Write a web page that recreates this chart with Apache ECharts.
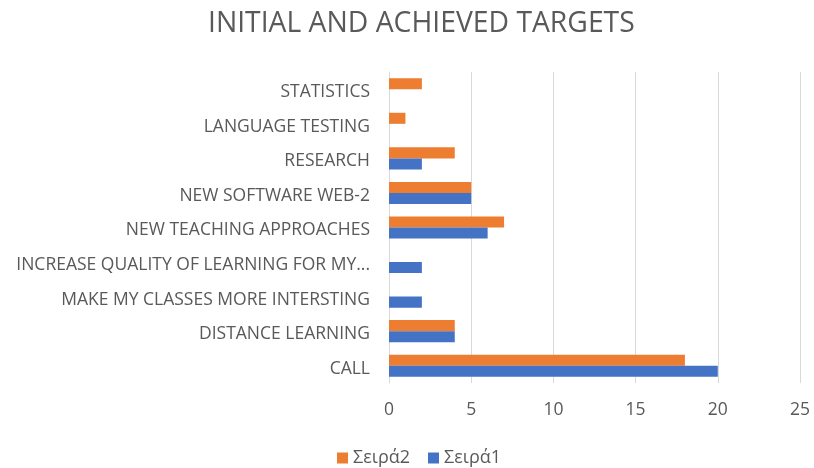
<!DOCTYPE html>
<html><head><meta charset="utf-8">
<script src="https://cdn.jsdelivr.net/npm/echarts@6/dist/echarts.min.js"></script>
<style>html,body{margin:0;padding:0;background:#fff}#c{width:814px;height:468px}</style>
</head><body><div id="c"></div>
<script>
const categories = ['CALL','DISTANCE LEARNING','MAKE MY CLASSES MORE INTERSTING','INCREASE QUALITY OF LEARNING FOR MY...','NEW TEACHING APPROACHES','NEW SOFTWARE WEB-2','RESEARCH','LANGUAGE TESTING','STATISTICS'];
const seira1 = [20,4,2,2,6,5,2,0,0];
const seira2 = [18,4,0,0,7,5,4,1,2];
const xTicks = [0,5,10,15,20,25];
const FONT = 'Open Sans';
const chart = echarts.init(document.getElementById('c'));
chart.setOption({
  animation:false,
  textStyle:{fontFamily:FONT},
  title:{text:'INITIAL AND ACHIEVED TARGETS',left:203,top:5,textStyle:{fontFamily:FONT,fontSize:28.3,fontWeight:'normal',color:'#595959'}},
  legend:{top:444,left:332,itemWidth:11,itemHeight:11,itemGap:18,icon:'rect',textStyle:{fontFamily:FONT,fontSize:18,color:'#595959'},data:['Σειρά2','Σειρά1']},
  grid:{left:389,right:14,top:72,bottom:85,containLabel:false},
  xAxis:{type:'value',min:xTicks[0],max:xTicks[xTicks.length-1],interval:5,axisLine:{show:false},axisTick:{show:false},
    splitLine:{lineStyle:{color:'#d9d9d9'}},axisLabel:{fontSize:17.5,color:'#595959',margin:18}},
  yAxis:{type:'category',data:categories,axisLine:{show:true,lineStyle:{color:'#d9d9d9'}},axisTick:{show:false},
    axisLabel:{color:'#595959',margin:19,formatter:v=>'{a|'+v+'}',
      rich:{a:{fontFamily:FONT,fontSize:17.5,color:'#595959',padding:[6,0,0,0]}}}},
  series:[
    {name:'Σειρά2',type:'bar',data:seira2,itemStyle:{color:'#ed7d31'},barGap:'0%',barCategoryGap:'36%'},
    {name:'Σειρά1',type:'bar',data:seira1,itemStyle:{color:'#4472c4'},barGap:'0%',barCategoryGap:'36%'}
  ]
});
</script></body></html>
